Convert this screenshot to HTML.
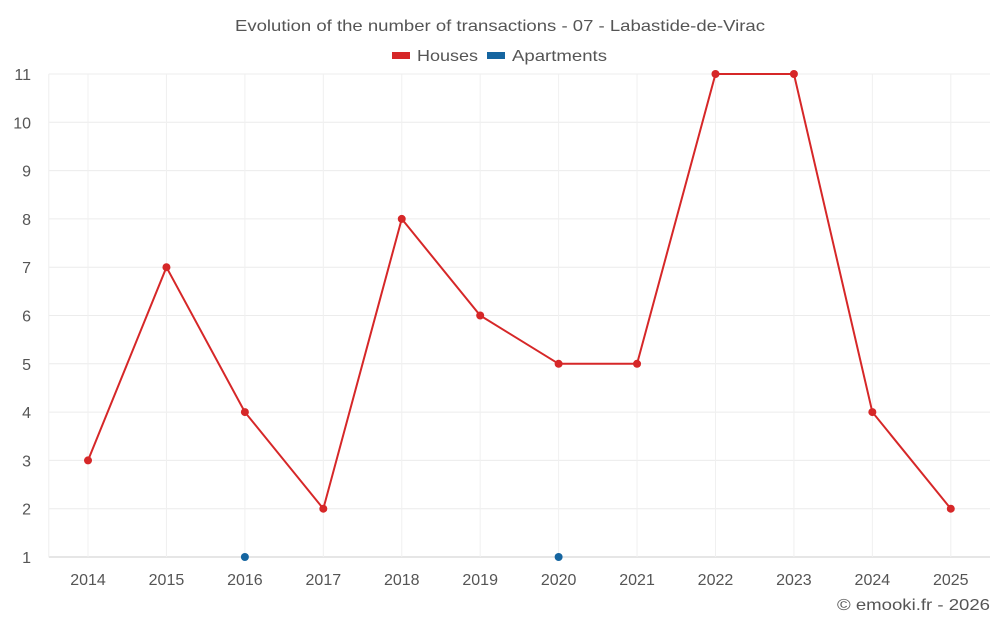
<!DOCTYPE html>
<html><head><meta charset="utf-8">
<style>
html,body{margin:0;padding:0;background:#fff;}
svg{display:block;font-family:"Liberation Sans",sans-serif;}
</style></head>
<body>
<svg id="chart" width="1000" height="625" viewBox="0 0 1000 625">
<text x="235" y="31" font-size="16" fill="#555" textLength="530" lengthAdjust="spacingAndGlyphs">Evolution of the number of transactions - 07 - Labastide-de-Virac</text>
<g>
<g><rect x="392" y="52" width="18" height="7" fill="#d62728"/><text x="417" y="61" font-size="16" fill="#555" textLength="61" lengthAdjust="spacingAndGlyphs">Houses</text></g>
<g><rect x="487" y="52" width="18" height="7" fill="#1565a0"/><text x="512" y="61" font-size="16" fill="#555" textLength="95" lengthAdjust="spacingAndGlyphs">Apartments</text></g>
</g>
<g id="grid"></g><g id="axes"></g><g id="series"></g>
<text x="837" y="610" font-size="16" fill="#555" textLength="153" lengthAdjust="spacingAndGlyphs">© emooki.fr - 2026</text>
</svg>
<script>
const categories=["2014","2015","2016","2017","2018","2019","2020","2021","2022","2023","2024","2025"];
const housesValues=[3,7,4,2,8,6,5,5,11,11,4,2];
const apartmentsValues=[null,null,1,null,null,null,1,null,null,null,null,null];
const yTicks=[1,2,3,4,5,6,7,8,9,10,11];
const NS="http://www.w3.org/2000/svg";
const L=48.8,R=990,T=74,B=557,yMin=1,yMax=11;
const bw=(R-L)/categories.length;
const x=i=>L+bw*(i+0.5);
const y=v=>B-(v-yMin)/(yMax-yMin)*(B-T);
function mk(tag,attrs,parent,txt){const e=document.createElementNS(NS,tag);for(const k in attrs)e.setAttribute(k,attrs[k]);if(txt!==undefined)e.textContent=txt;parent.appendChild(e);return e;}
const grid=document.getElementById('grid'),axes=document.getElementById('axes'),ser=document.getElementById('series');
yTicks.forEach(t=>{
 const l=mk('line',{x1:L,x2:R,y1:y(t),y2:y(t),stroke:t===yMin?'#ccc':'#ececec','stroke-width':1},grid);
 
 
 const tx=mk('text',{x:31,y:y(t)+6,'text-anchor':'end','font-size':16,fill:'#555'},axes,String(t));
 
 
});
categories.forEach((c,i)=>{
 const l=mk('line',{x1:x(i),x2:x(i),y1:T,y2:B,stroke:'#f0f0f0','stroke-width':1},grid);
 
 
 const tx=mk('text',{x:x(i),y:585,'text-anchor':'middle','font-size':16,fill:'#555'},axes,c);
 
 
});
const l0=mk('line',{x1:L,x2:L,y1:T,y2:B,stroke:'#eee'},grid);


const pts=housesValues.map((v,i)=>x(i)+','+y(v)).join(' ');
const pl=mk('polyline',{points:pts,fill:'none',stroke:'#d62728','stroke-width':2},ser);


housesValues.forEach((v,i)=>{
 const c=mk('circle',{cx:x(i),cy:y(v),r:4,fill:'#d62728'},ser);
 
 
});
apartmentsValues.forEach((v,i)=>{
 if(v===null)return;
 const c=mk('circle',{cx:x(i),cy:y(v),r:4,fill:'#1565a0'},ser);
 
 
});
</script>
</body></html>
